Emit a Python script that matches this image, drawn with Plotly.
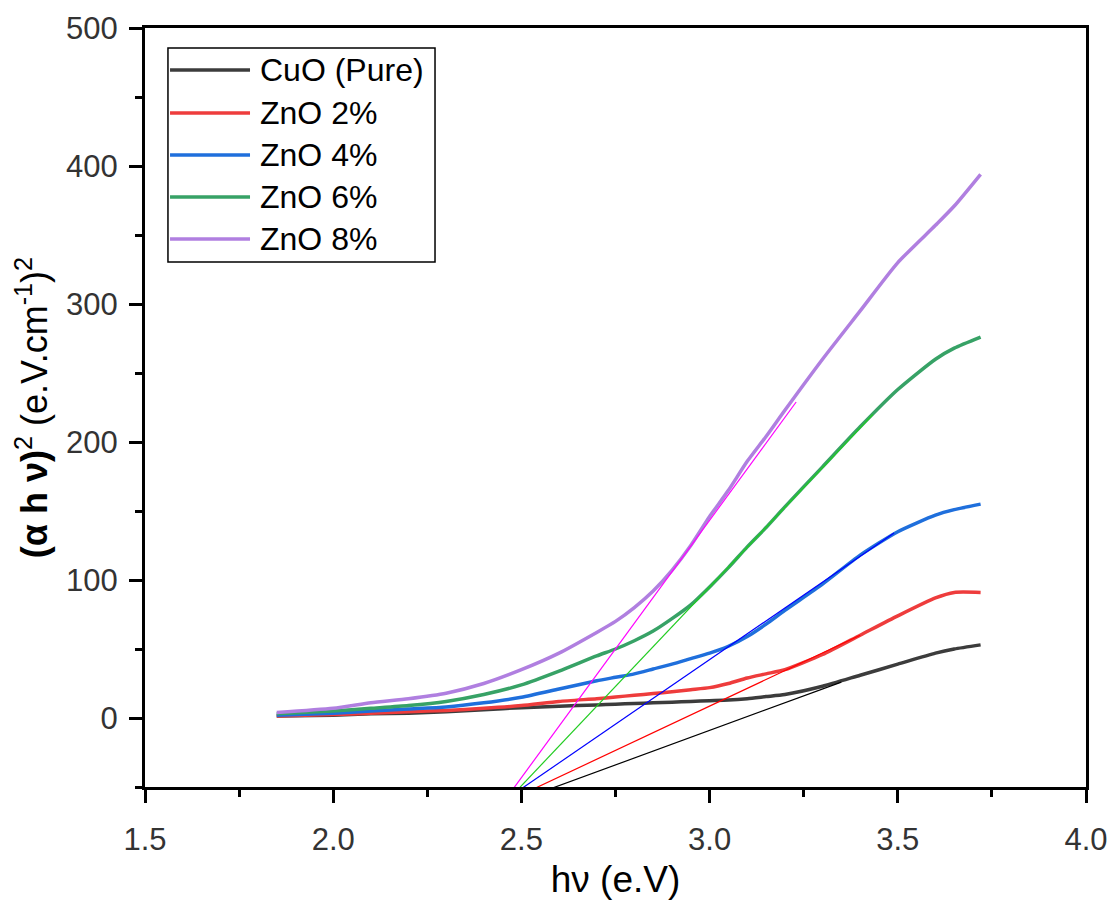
import plotly.graph_objects as go

# ---- data ----
hv = [1.85, 2.0, 2.1, 2.2, 2.3, 2.4, 2.5, 2.6, 2.7, 2.75, 2.8, 2.85, 2.9, 2.95,
      3.0, 3.05, 3.1, 3.15, 3.2, 3.3, 3.4, 3.5, 3.6, 3.65, 3.72]
cuo_pure = [1.5, 2, 3, 3.5, 4.5, 6, 7.5, 8.5, 9.5, 10, 10.5, 11, 11.5, 12,
            12.5, 13, 14, 15.5, 17, 23, 31, 39, 47, 50, 53]
zno_2 = [1.5, 2.5, 3.5, 4.5, 5.5, 7, 9, 12, 14, 15.2, 16.5, 17.7, 19, 20.5,
         22, 25, 29, 32, 35, 46, 60, 74, 87, 91, 91]
zno_4 = [2, 3.5, 5, 6.5, 8, 11, 15, 21, 27, 29.5, 32, 35.5, 39, 43,
         47, 52, 59, 68, 78, 97, 118, 135, 147, 151, 155]
zno_6 = [3, 5, 7, 9, 12, 17, 24, 34, 45, 50, 56, 63, 72, 82,
         95, 109, 124, 138, 153, 182, 211, 238, 260, 268, 276]
zno_8 = [4, 7, 11, 14, 18, 25, 35, 47, 62, 70, 80, 92, 107, 125,
         146, 165, 186, 204, 223, 260, 295, 330, 357, 371, 394]

series_names = ["CuO (Pure)", "ZnO 2%", "ZnO 4%", "ZnO 6%", "ZnO 8%"]
series_values = [cuo_pure, zno_2, zno_4, zno_6, zno_8]

# linear (Tauc) extrapolation lines: [start, end] for each sample
fit_cuo_x = [2.54, 3.35]
fit_cuo_y = [-55, 26]
fit_2_x = [2.52, 3.40]
fit_2_y = [-53, 60]
fit_4_x = [2.48, 3.49]
fit_4_y = [-55, 134]
fit_6_x = [2.49, 3.434]
fit_6_y = [-52, 220]
fit_8_x = [2.455, 3.23]
fit_8_y = [-60, 229]

fits_x = [fit_cuo_x, fit_2_x, fit_4_x, fit_6_x, fit_8_x]
fits_y = [fit_cuo_y, fit_2_y, fit_4_y, fit_6_y, fit_8_y]

x_ticks = [1.5, 2.0, 2.5, 3.0, 3.5, 4.0]
y_ticks = [0, 100, 200, 300, 400, 500]

# ---- styles ----
curve_colors = ["#3c3c3c", "#ee3c3c", "#1f6fdc", "#37a266", "#b07fe0"]
fit_colors = ["#000000", "#ff0000", "#0000ff", "#22cc22", "#ff00ff"]
FONT = "Arial, 'Liberation Sans', sans-serif"

fig = go.Figure()
for name, vals, col in zip(series_names, series_values, curve_colors):
    fig.add_trace(go.Scatter(x=hv, y=vals, mode="lines", name=name,
                             line=dict(color=col, width=3.5, shape="spline", smoothing=0.6),
                             showlegend=False))
for fx, fy, col in zip(fits_x, fits_y, fit_colors):
    fig.add_trace(go.Scatter(x=fx, y=fy, mode="lines", showlegend=False,
                             line=dict(color=col, width=1.2)))

# ---- custom legend (long line samples like the original) ----
lx0, lx1, ly0, ly1 = 0.0244, 0.3082, 0.6917, 0.9736
fig.add_shape(type="rect", xref="paper", yref="paper", x0=lx0, x1=lx1, y0=ly0, y1=ly1,
              line=dict(color="black", width=1.5), fillcolor="white", layer="above")
entry_y = [0.9447, 0.8880, 0.8327, 0.7773, 0.7220]
for name, col, ey in zip(series_names, curve_colors, entry_y):
    fig.add_shape(type="line", xref="paper", yref="paper", x0=0.0266, x1=0.1116, y0=ey, y1=ey,
                  line=dict(color=col, width=3.5), layer="above")
    fig.add_annotation(xref="paper", yref="paper", x=0.1201, y=ey, text=name, showarrow=False,
                       xanchor="left", yanchor="middle",
                       font=dict(family=FONT, size=32, color="black"))

axis_common = dict(showline=True, linecolor="black", linewidth=3, mirror=True,
                   ticks="outside", ticklen=13, tickwidth=3, tickcolor="black",
                   showgrid=False, zeroline=False, automargin=False,
                   tickfont=dict(family=FONT, size=31, color="#333333"))

fig.update_layout(
    width=1109, height=908,
    margin=dict(l=145, r=23, t=28, b=121, autoexpand=False),
    paper_bgcolor="white", plot_bgcolor="white",
    showlegend=False,
    xaxis=dict(range=[1.5, 4.0], tickvals=x_ticks, ticktext=[f"{v:.1f}" for v in x_ticks],
               ticklabelstandoff=10,
               minor=dict(dtick=0.25, ticks="outside", ticklen=7, tickwidth=3, tickcolor="black"),
               title=dict(text="hν (e.V)", font=dict(family=FONT, size=37, color="black"), standoff=10),
               **axis_common),
    yaxis=dict(range=[-50, 500], tickvals=y_ticks, ticklabelstandoff=5,
               minor=dict(dtick=50, ticks="outside", ticklen=7, tickwidth=3, tickcolor="black"),
               title=dict(text="<b>(α h ν)</b><sup>2</sup> (e.V.cm<sup>-1</sup>)<sup>2</sup>",
                          font=dict(family=FONT, size=36, color="black"), standoff=8),
               **axis_common),
)

fig.write_html("out.html", config={"displayModeBar": False},
               post_script="document.body.style.margin='0';")
